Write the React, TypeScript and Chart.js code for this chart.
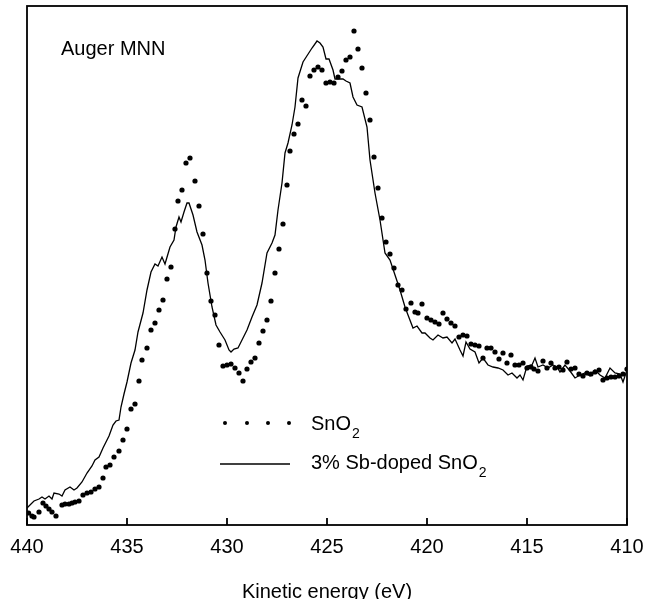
import React, { useEffect, useRef } from "react";
import { Chart, registerables } from "chart.js";

Chart.register(...registerables);

// Kinetic energy (eV) and intensity (arb. units) — SnO2 (dots)
const snO2Energy = [
  439.92, 439.75, 439.65, 439.4, 439.2, 439.05, 438.9, 438.75, 438.55, 438.25, 438.1, 437.9, 437.75, 437.6, 437.4,
  437.2, 437.0, 436.8, 436.6, 436.4, 436.2, 436.05, 435.85, 435.65, 435.4, 435.2, 435.0, 434.8, 434.6, 434.4,
  434.25, 434.0, 433.8, 433.6, 433.4, 433.2, 433.0, 432.8, 432.6, 432.45, 432.25, 432.05, 431.85, 431.6, 431.4,
  431.2, 431.0, 430.8, 430.6, 430.4, 430.2, 430.0, 429.8, 429.6, 429.4, 429.2, 429.0, 428.8, 428.6, 428.4,
  428.2, 428.0, 427.8, 427.6, 427.4, 427.2, 427.0, 426.85, 426.65, 426.45, 426.25, 426.05, 425.85, 425.65, 425.45,
  425.25, 425.05, 424.85, 424.65, 424.45, 424.25, 424.05, 423.85, 423.65, 423.45, 423.25, 423.05, 422.85, 422.65, 422.45,
  422.25, 422.05, 421.85, 421.65, 421.45, 421.25, 421.05, 420.8, 420.6, 420.45, 420.25, 420.0, 419.8, 419.6, 419.4,
  419.2, 419.0, 418.8, 418.6, 418.4, 418.2, 418.0, 417.8, 417.6, 417.4, 417.2, 417.0, 416.8, 416.6, 416.4,
  416.2, 416.0, 415.8, 415.6, 415.4, 415.2, 415.0, 414.8, 414.65, 414.45, 414.2, 414.0, 413.8, 413.6, 413.4,
  413.2, 413.0, 412.8, 412.6, 412.4, 412.2, 412.0, 411.8, 411.6, 411.4, 411.2, 411.0, 410.8, 410.6, 410.4,
  410.2, 410.0,
];
const snO2Intensity = [
  12, 9, 8, 13, 22, 19, 16, 13, 9, 20, 21, 21, 22, 23, 24,
  30, 32, 33, 36, 38, 47, 58, 60, 68, 74, 85, 96, 116, 121, 144,
  165, 177, 195, 202, 215, 225, 246, 258, 296, 324, 335, 362, 367, 344, 319,
  291, 252, 224, 210, 180, 159, 160, 161, 157, 152, 144, 156, 163, 167, 182,
  194, 205, 224, 252, 276, 301, 340, 374, 391, 401, 425, 419, 449, 455, 458,
  455, 442, 443, 442, 448, 454, 465, 468, 494, 476, 457, 432, 405, 368, 337,
  307, 283, 271, 257, 240, 235, 216, 222, 213, 212, 221, 207, 205, 203, 201,
  212, 206, 202, 199, 188, 190, 189, 181, 180, 179, 167, 177, 177, 173, 166,
  172, 162, 170, 160, 160, 162, 157, 158, 156, 154, 164, 157, 162, 157, 158,
  155, 163, 156, 157, 151, 149, 152, 151, 153, 155, 145, 147, 148, 148, 149,
  151, 156,
];

// 3% Sb-doped SnO2 (line)
const sbEnergy = [
  440.0, 439.65, 439.4, 439.25, 439.1, 438.9, 438.75, 438.65, 438.4, 438.25, 438.1, 437.85, 437.65, 437.5, 437.25,
  437.0, 436.75, 436.6, 436.4, 436.2, 435.9, 435.7, 435.55, 435.4, 435.3, 435.15, 435.0, 434.8, 434.6, 434.45,
  434.2, 434.0, 433.8, 433.6, 433.45, 433.25, 433.1, 432.85, 432.65, 432.55, 432.4, 432.3, 432.15, 432.0, 431.9,
  431.7, 431.5, 431.25, 431.1, 430.95, 430.75, 430.55, 430.35, 430.1, 429.9, 429.8, 429.65, 429.45, 429.2, 429.0,
  428.75, 428.5, 428.25, 428.0, 427.75, 427.6, 427.45, 427.25, 427.1, 426.95, 426.75, 426.6, 426.45, 426.2, 425.75,
  425.5, 425.35, 425.2, 425.05, 424.9, 424.7, 424.6, 424.2, 424.05, 423.85, 423.7, 423.5, 423.25, 423.0, 422.85,
  422.6, 422.35, 422.1, 421.85, 421.6, 421.35, 421.1, 420.95, 420.7, 420.5, 420.25, 420.1, 419.85, 419.7, 419.45,
  419.2, 419.0, 418.75, 418.6, 418.35, 418.2, 418.05, 417.85, 417.6, 417.4, 417.2, 416.95, 416.7, 416.45, 416.2,
  415.95, 415.75, 415.5, 415.35, 415.2, 415.0, 414.75, 414.6, 414.45, 414.2, 413.95, 413.7, 413.5, 413.35, 413.1,
  412.85, 412.6, 412.35, 412.1, 411.85, 411.6, 411.35, 411.1, 410.85, 410.6, 410.35, 410.2, 410.0,
];
const sbIntensity = [
  17, 24, 26, 28, 26, 29, 26, 32, 31, 29, 35, 38, 35, 37, 43,
  52, 59, 65, 68, 77, 89, 100, 104, 105, 118, 131, 143, 162, 175, 193,
  212, 235, 253, 261, 259, 268, 261, 278, 285, 298, 308, 303, 313, 322, 322,
  310, 293, 280, 265, 242, 218, 200, 193, 185, 175, 173, 176, 177, 187, 195,
  208, 220, 242, 272, 282, 290, 315, 342, 372, 382, 400, 418, 447, 463, 477,
  484, 482, 478, 466, 466, 455, 446, 446, 444, 442, 428, 420, 418, 398, 365,
  332, 305, 272, 265, 250, 235, 218, 210, 197, 199, 192, 192, 187, 185, 190,
  187, 188, 182, 186, 175, 169, 183, 176, 173, 162, 167, 160, 158, 157, 155,
  150, 152, 147, 150, 145, 159, 160, 167, 158, 160, 157, 160, 158, 153, 160,
  154, 147, 150, 152, 149, 155, 150, 147, 157, 152, 151, 143, 155,
];

const xTicks = [440, 435, 430, 425, 420, 415, 410];
const xTitle = "Kinetic energy (eV)";
const panelLabel = "Auger MNN";
const legendLabels = [
  ["SnO", "2"],
  ["3% Sb-doped SnO", "2"],
];

const FONT = "'Liberation Sans', Arial, Helvetica, sans-serif";

const decorPlugin = {
  id: "decor",
  afterDraw(chart: any) {
    const { ctx, chartArea } = chart;
    const { left, right, top, bottom } = chartArea;
    const xs = chart.scales.x;
    ctx.save();
    // frame
    ctx.strokeStyle = "#000";
    ctx.lineWidth = 1.8;
    ctx.strokeRect(left, top, right - left, bottom - top);
    // inward ticks
    ctx.lineWidth = 1.8;
    xTicks.forEach((v) => {
      const px = xs.getPixelForValue(v);
      ctx.beginPath();
      ctx.moveTo(px, bottom);
      ctx.lineTo(px, bottom - 7);
      ctx.stroke();
    });
    ctx.fillStyle = "#000";
    ctx.textBaseline = "alphabetic";
    ctx.textAlign = "left";
    // panel label
    ctx.font = `20px ${FONT}`;
    ctx.fillText(panelLabel, left + 34, top + 49);
    // legend
    const lx = left + 193;
    const tx = left + 284;
    // dots row
    const y1 = top + 417;
    [0, 22, 43, 64].forEach((dx) => {
      ctx.beginPath();
      ctx.arc(lx + 5 + dx, y1, 2, 0, Math.PI * 2);
      ctx.fill();
    });
    ctx.font = `20px ${FONT}`;
    ctx.fillText(legendLabels[0][0], tx, y1 + 7);
    let w = ctx.measureText(legendLabels[0][0]).width;
    ctx.font = `14px ${FONT}`;
    ctx.fillText(legendLabels[0][1], tx + w + 1, y1 + 15);
    // line row
    const y2 = top + 458;
    ctx.lineWidth = 1.3;
    ctx.beginPath();
    ctx.moveTo(lx, y2);
    ctx.lineTo(lx + 70, y2);
    ctx.stroke();
    ctx.font = `20px ${FONT}`;
    ctx.fillText(legendLabels[1][0], tx, y2 + 5);
    w = ctx.measureText(legendLabels[1][0]).width;
    ctx.font = `14px ${FONT}`;
    ctx.fillText(legendLabels[1][1], tx + w + 1, y2 + 13);
    ctx.restore();
  },
};

export default function App() {
  const ref = useRef<HTMLCanvasElement | null>(null);
  useEffect(() => {
    if (!ref.current) return;
    const snData = snO2Energy.map((x, i) => ({ x, y: snO2Intensity[i] }));
    const sbData = sbEnergy.map((x, i) => ({ x, y: sbIntensity[i] }));
    const chart = new Chart(ref.current, {
      type: "scatter",
      data: {
        datasets: [
          {
            label: "SnO2",
            data: snData,
            showLine: false,
            pointRadius: 2.6,
            pointBackgroundColor: "#000",
            pointBorderWidth: 0,
            borderColor: "#000",
          },
          {
            label: "3% Sb-doped SnO2",
            data: sbData,
            showLine: true,
            pointRadius: 0,
            borderColor: "#000",
            borderWidth: 1.3,
            tension: 0,
          },
        ],
      },
      options: {
        responsive: false,
        animation: false,
        devicePixelRatio: 1,
        layout: { padding: { left: 27, right: 18, top: 6, bottom: 0 } },
        plugins: {
          legend: { display: false },
          tooltip: { enabled: false },
        },
        scales: {
          x: {
            type: "linear",
            min: 410,
            max: 440,
            reverse: true,
            grid: { display: false, drawTicks: false },
            border: { display: false },
            afterBuildTicks: (scale: any) => {
              scale.ticks = xTicks.map((v) => ({ value: v }));
            },
            afterFit: (scale: any) => {
              scale.height = 74;
              scale.paddingLeft = 0;
              scale.paddingRight = 0;
            },
            ticks: {
              color: "#000",
              font: { family: FONT, size: 20 },
              padding: 10,
              maxRotation: 0,
            },
            title: {
              display: true,
              text: xTitle,
              color: "#000",
              font: { family: FONT, size: 20, lineHeight: 0.7 },
              padding: { top: 16, bottom: 0 },
            },
          },
          y: {
            display: false,
            min: 0,
            max: 519,
          },
        },
      },
      plugins: [decorPlugin],
    });
    return () => chart.destroy();
  }, []);
  return (
    <div style={{ position: "fixed", left: 0, top: 0, width: 645, height: 599, background: "#fff" }}>
      <canvas ref={ref} width={645} height={599} />
    </div>
  );
}
